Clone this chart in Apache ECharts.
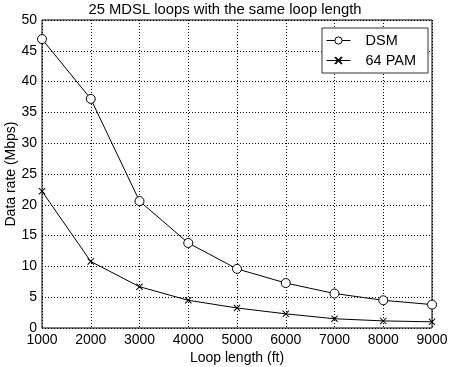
<!DOCTYPE html>
<html><head><meta charset="utf-8">
<script src="https://cdn.jsdelivr.net/npm/echarts@6/dist/echarts.min.js"></script>
<style>html,body{margin:0;padding:0;background:#fff}#c{width:450px;height:367px}</style>
</head><body><div id="c"></div>
<script>
const loopLengths = [1000, 2000, 3000, 4000, 5000, 6000, 7000, 8000, 9000];
const dsm = [46.9, 37.2, 20.6, 13.8, 9.6, 7.3, 5.6, 4.5, 3.8];
const pam64 = [22.2, 10.8, 6.7, 4.5, 3.25, 2.3, 1.5, 1.15, 1.0];
const titleText = '25 MDSL loops with the same loop length';
const xName = 'Loop length (ft)';
const yName = 'Data rate (Mbps)';

const crossPath = 'path://M0,1L1,0L5,4L9,0L10,1L6,5L10,9L9,10L5,6L1,10L0,9L4,5Z';
const font = 'Liberation Sans, Arial, Helvetica, sans-serif';
const chart = echarts.init(document.getElementById('c'));
chart.setOption({
  animation: false,
  backgroundColor: '#fff',
  textStyle: { fontFamily: font, color: '#000' },
  title: { text: titleText, left: 'center', top: 0, padding: [2, 0, 0, 16],
    textStyle: { fontFamily: font, fontSize: 14.8, fontWeight: 'normal', color: '#000' } },
  grid: { left: 42, right: 18, top: 20, bottom: 39, show: true, borderColor: '#000', borderWidth: 1,
    containLabel: false, outerBoundsMode: 'none' },
  legend: {
    right: 22, top: 28, orient: 'vertical', itemGap: 5, itemWidth: 24, itemHeight: 9,
    borderColor: '#333', borderWidth: 1, backgroundColor: '#fff', padding: [5, 12, 5, 4],
    lineStyle: { width: 1 },
    itemStyle: { borderWidth: 1 },
    textStyle: { fontFamily: font, fontSize: 14.5, color: '#000', padding: [0, 0, 0, 10] },
    data: [{ name: 'DSM' }, { name: '64 PAM' }]
  },
  xAxis: {
    type: 'value', min: 1000, max: 9000, interval: 1000,
    name: xName, nameLocation: 'middle', nameGap: 23, nameMoveOverlap: false,
    nameTextStyle: { fontFamily: font, fontSize: 14, color: '#000' },
    axisLine: { show: false },
    axisTick: { show: false },
    axisLabel: { fontFamily: font, fontSize: 14, color: '#000', margin: 5, formatter: v => String(v) },
    splitLine: { show: true, lineStyle: { color: '#000', type: [1, 2], width: 1 } }
  },
  yAxis: {
    type: 'value', min: 0, max: 50, interval: 5,
    name: yName, nameLocation: 'middle', nameGap: 24, nameMoveOverlap: false,
    nameTextStyle: { fontFamily: font, fontSize: 14, color: '#000' },
    axisLine: { show: false },
    axisTick: { show: false },
    axisLabel: { fontFamily: font, fontSize: 14, color: '#000', margin: 5 },
    splitLine: { show: true, lineStyle: { color: '#000', type: [1, 2], width: 1 } }
  },
  series: [
    { name: 'DSM', type: 'line', data: loopLengths.map((x, i) => [x, dsm[i]]),
      symbol: 'circle', symbolSize: 9,
      itemStyle: { color: '#fff', borderColor: '#000', borderWidth: 1 },
      lineStyle: { color: '#000', width: 1 } },
    { name: '64 PAM', type: 'line', data: loopLengths.map((x, i) => [x, pam64[i]]),
      symbol: crossPath, symbolSize: 7,
      itemStyle: { color: '#000', borderColor: '#000', borderWidth: 0 },
      lineStyle: { color: '#000', width: 1 } }
  ]
});
</script></body></html>
